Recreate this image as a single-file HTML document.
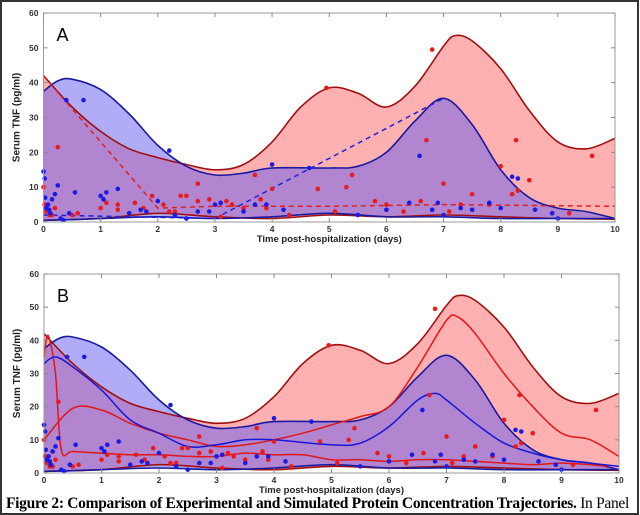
<!DOCTYPE html>
<html><head><meta charset="utf-8">
<style>
html,body{margin:0;padding:0;background:#fff;}
body{width:640px;height:515px;overflow:hidden;position:relative;}
svg{position:absolute;left:0;top:0;}
.cap{position:absolute;left:6px;top:496px;line-height:15px;width:640px;white-space:nowrap;font-family:"Liberation Serif",serif;font-size:15.5px;color:#000;letter-spacing:-0.3px;}
</style></head>
<body>
<svg id="chart" width="640" height="515"></svg>
<div class="cap"><b>Figure 2: Comparison of Experimental and Simulated Protein Concentration Trajectories.</b> In Panel</div>
<script>
// ---- data ----
const xTicks=[0,1,2,3,4,5,6,7,8,9,10];
const yTicks=[0,10,20,30,40,50,60];
const redUpperT=[0,0.5,1,1.5,2,2.5,3,3.5,4,4.5,5,5.5,6,6.5,7,7.2,7.5,8,8.5,9,9.5,10];
const redUpperV=[42,33,26,21,18.5,16.5,15,16.5,23,33,38.5,37,33,39,50.5,53.5,52,44,32,23,21,24];
const redLowerT=[0,1,2,3,4,5,6,7,8,9,10];
const redLowerV=[0.5,1,2.5,1.5,1,2,1.5,2,1.5,1,0.8];
const blueUpperT=[0,0.25,0.5,1,1.5,2,2.5,3,3.5,4,5,5.5,6,6.5,7,7.5,8,8.5,9,9.5,10];
const blueUpperV=[37.5,40.5,41,38,31,22,16,13.5,14,15.5,15.5,16,20,29,35.5,28,15,7,4,3,1];
const blueLowerT=[0,0.5,1,2,3,4,5,6,7,8,9,10];
const blueLowerV=[0.5,0.7,1,1.5,1,1.5,2.5,1.5,1.5,1,1,1];
const redDashT=[0,2,3,5,7,10];
const redDashV=[42,4,4.5,4.5,5,4.5];
const blueDashT=[0,3,7];
const blueDashV=[2,1,35.5];
const simRed1T=[0,0.5,1,1.5,2,2.5,3,3.5,4,4.5,5,5.5,6,6.5,7,7.2,7.5,8,8.5,9,9.5,10];
const simRed1V=[10,19.5,19,15,12,10,8,8.5,10,12,14.5,17,20,32,46,47,42,30,20,12,10,5];
const simRed2T=[0,0.05,0.1,0.2,0.3,0.5,1,1.5,2,2.5,3,3.5,4,4.5,5,5.5,6,6.5,7,7.5,8,8.5,9,9.5,9.8];
const simRed2V=[35,41,40,30,7,6.5,6,5.5,5.5,5,5,6,5.5,5.5,4,4,3.5,4,4,3.5,3,2.5,3,2.5,2];
const simBlue1T=[0,0.2,0.5,1,1.5,2,2.5,3,3.5,4,5,5.5,6,6.5,6.8,7,7.5,8,8.5,9,9.5,10];
const simBlue1V=[33,35,32,25,16,12,8,8.5,10,10,8.5,9,14,22,24,22,15,9,6,4,3,2];
const redPtsT=[0,0.02,0.05,0.1,0.15,0.25,0.2,0.5,0.6,1,1.1,1.3,1.3,1.6,1.75,1.9,2.1,2.2,2.3,2.4,2.5,2.7,2.7,2.9,3.1,3.2,3.3,3.5,3.7,3.8,3.9,4,4.3,4.8,4.95,5.1,5.3,5.4,5.8,6,6.3,6.6,6.7,6.8,7,7.1,7.3,7.5,7.8,8,8.2,8.27,8.3,8.5,8.9,9.2,9.6];
const redPtsV=[10,5,3,2,2,21.5,4,2,2.5,4,5.5,5,3.5,5.5,4,7.5,5,3,3,7.5,7.5,11,6,6.5,1.5,6,5,4,13.5,6.5,4,9.5,2,9.5,38.5,3,10,13.5,6,5,3,6,23.5,49.5,11,3,5,8,5,16,8,23.5,9,12,2.5,2.5,19];
const bluePtsT=[0,0.02,0.03,0.05,0.08,0.1,0.12,0.15,0.2,0.25,0.3,0.35,0.4,0.45,0.55,0.7,1,1.05,1.1,1.3,1.5,1.7,1.8,2,2.2,2.3,2.5,2.7,2.9,3,3.1,3.5,3.7,3.9,4,4.2,4.65,5.5,6,6.4,6.58,6.8,6.9,7,7.3,7.5,7.8,8,8.2,8.3,8.6,8.9,9];
const bluePtsV=[14.5,12.5,7,4,5,3.5,2.5,6.5,8,10.5,1,0.5,35,2.5,8.5,35,7.5,6.5,8.5,9.5,2.5,3.5,3,6,20.5,2,1,3,3,5,5.5,3,5,5,16.5,3.5,15.5,2,3.5,5.5,19,3.5,5.5,2,4,3.5,5.5,4,13,12.5,3.5,2.5,1];

const NS='http://www.w3.org/2000/svg';
const svg=document.getElementById('chart');
function el(tag,attrs,parent){const e=document.createElementNS(NS,tag);for(const k in attrs)e.setAttribute(k,attrs[k]);(parent||svg).appendChild(e);return e;}

function smoothPath(pts){
  let d='M'+pts[0][0].toFixed(1)+','+pts[0][1].toFixed(1);
  for(let i=0;i<pts.length-1;i++){
    const p0=pts[i-1]||pts[i],p1=pts[i],p2=pts[i+1],p3=pts[i+2]||p2;
    const c1=[p1[0]+(p2[0]-p0[0])/6,p1[1]+(p2[1]-p0[1])/6];
    const c2=[p2[0]-(p3[0]-p1[0])/6,p2[1]-(p3[1]-p1[1])/6];
    d+=' C'+c1[0].toFixed(1)+','+c1[1].toFixed(1)+' '+c2[0].toFixed(1)+','+c2[1].toFixed(1)+' '+p2[0].toFixed(1)+','+p2[1].toFixed(1);
  }
  return d;
}
function linePath(pts){return 'M'+pts.map(p=>p[0].toFixed(1)+','+p[1].toFixed(1)).join(' L');}

const border=el('rect',{x:1,y:1,width:637,height:513,fill:'none',stroke:'#333','stroke-width':2});



function panel(cfg){
  const {x0,x1,y0,y1,label,sim,name}=cfg;
  const g=el('g',{});
  
  
  const X=t=>x0+(x1-x0)*t/10;
  const Y=v=>y0-(y0-y1)*v/60;
  const pts=(T,V)=>T.map((t,i)=>[X(t),Y(V[i])]);
  const ru=pts(redUpperT,redUpperV), rl=pts(redLowerT,redLowerV);
  const bu=pts(blueUpperT,blueUpperV), bl=pts(blueLowerT,blueLowerV);
  const rlr=smoothPath(rl.slice().reverse()).replace('M','L');
  const blr=smoothPath(bl.slice().reverse()).replace('M','L');
  const rb=el('path',{d:smoothPath(ru)+' '+rlr+' Z',fill:'rgb(255,150,150)','fill-opacity':0.75,stroke:'none'},g);
  
  
  const bb=el('path',{d:smoothPath(bu)+' '+blr+' Z',fill:'rgb(100,90,240)','fill-opacity':0.5,stroke:'none'},g);
  
  
  [[ru,'#a01010','red-upper-bound'],[rl,'#a01010','red-lower-bound'],[bu,'#1a1aa0','blue-upper-bound'],[bl,'#1a1aa0','blue-lower-bound']].forEach(([p,c,n])=>{
    const l=el('path',{d:smoothPath(p),fill:'none',stroke:c,'stroke-width':1.6},g);
    
    
  });
  if(!sim){
    const a=el('path',{d:linePath(pts(redDashT,redDashV)),fill:'none',stroke:'#e02020','stroke-width':1.5,'stroke-dasharray':'5,4'},g);
    
    
    const b=el('path',{d:linePath(pts(blueDashT,blueDashV)),fill:'none',stroke:'#2020e0','stroke-width':1.5,'stroke-dasharray':'5,4'},g);
    
    
  } else {
    [[simRed1T,simRed1V,'#e01818','sim-red-line-1'],[simRed2T,simRed2V,'#e01818','sim-red-line-2'],[simBlue1T,simBlue1V,'#1818d8','sim-blue-line-1']].forEach(([T,V,c,n])=>{
      const l=el('path',{d:smoothPath(pts(T,V)),fill:'none',stroke:c,'stroke-width':1.5},g);
      
      
    });
  }
  redPtsT.forEach((t,i)=>{
    const c=el('circle',{cx:X(t),cy:Y(redPtsV[i]),r:2.3,fill:'#e81a1a'},g);
    
    
  });
  bluePtsT.forEach((t,i)=>{
    const c=el('circle',{cx:X(t),cy:Y(bluePtsV[i]),r:2.3,fill:'#1a1ae8'},g);
    
    
  });
  const box=el('rect',{x:x0,y:y1,width:x1-x0,height:y0-y1,fill:'none',stroke:'#999','stroke-width':1},g);
  
  
  xTicks.forEach(t=>{
    el('line',{x1:X(t),x2:X(t),y1:y0,y2:y0-4,stroke:'#888'},g);
    el('line',{x1:X(t),x2:X(t),y1:y1,y2:y1+4,stroke:'#888'},g);
    const tx=el('text',{x:X(t),y:y0+10,'font-size':8.5,'font-weight':'bold','text-anchor':'middle','font-family':'Liberation Sans, sans-serif',fill:'#333'},g);
    tx.textContent=t;
    
    
  });
  yTicks.forEach(v=>{
    el('line',{x1:x0,x2:x0+4,y1:Y(v),y2:Y(v),stroke:'#888'},g);
    el('line',{x1:x1,x2:x1-4,y1:Y(v),y2:Y(v),stroke:'#888'},g);
    const tx=el('text',{x:x0-5,y:Y(v)+3,'font-size':8.5,'font-weight':'bold','text-anchor':'end','font-family':'Liberation Sans, sans-serif',fill:'#333'},g);
    tx.textContent=v;
    
    
  });
  const xt=el('text',{x:(x0+x1)/2,y:y0+20,'font-size':9.5,'font-weight':'bold','text-anchor':'middle','font-family':'Liberation Sans, sans-serif',fill:'#222'},g);
  xt.textContent='Time post-hospitalization (days)';
  
  
  const yc=(y0+y1)/2;
  const yt=el('text',{x:0,y:0,transform:`translate(${x0-24},${yc}) rotate(-90)`,'font-size':10,'font-weight':'bold','text-anchor':'middle','font-family':'Liberation Sans, sans-serif',fill:'#222'},g);
  yt.textContent='Serum TNF (pg/ml)';
  
  
  const lb=el('text',{x:x0+13,y:y1+28,'font-size':18,'font-family':'Liberation Sans, sans-serif',fill:'#000'},g);
  lb.textContent=label;
  
  
}
panel({x0:43.5,x1:615,y0:222,y1:13,label:'A',sim:false,name:'panel-a'});
panel({x0:44,x1:619,y0:473,y1:274,label:'B',sim:true,name:'panel-b'});
</script>
</body></html>
